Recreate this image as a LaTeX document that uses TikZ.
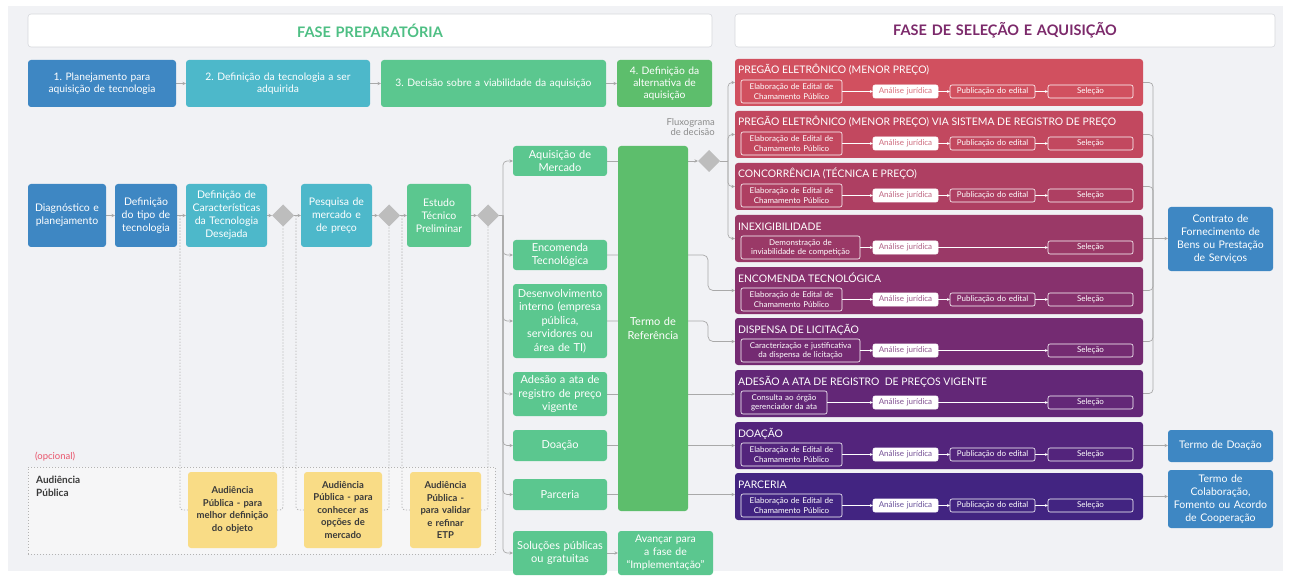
\documentclass[tikz,border=0pt]{standalone}
\usepackage{fontspec}
\setmainfont{Lato}
\usetikzlibrary{arrows.meta,shapes.geometric,calc}
\definecolor{bgc}{HTML}{F1F2F5}
\definecolor{hdrc}{HTML}{D6D8DC}
\definecolor{chg}{HTML}{4EBF84}
\definecolor{chp}{HTML}{7C2A6B}
\definecolor{cblue}{HTML}{3E87C3}
\definecolor{cteal}{HTML}{4DB8CA}
\definecolor{cmint}{HTML}{5BC78F}
\definecolor{cgreen}{HTML}{5DBE6C}
\definecolor{cyel}{HTML}{F9DC86}
\definecolor{ytext}{HTML}{3A3A3A}
\definecolor{lc}{HTML}{A9A9A9}
\definecolor{dc}{HTML}{B3B3B3}
\definecolor{dgray}{HTML}{BDBDBD}
\definecolor{audf}{HTML}{F6F6F7}
\definecolor{cred}{HTML}{E9546B}
\definecolor{cfl}{HTML}{8C8C8C}
\definecolor{pa}{HTML}{D1505F}
\definecolor{pb}{HTML}{C2485F}
\definecolor{pc}{HTML}{AE3F62}
\definecolor{pd}{HTML}{9A3967}
\definecolor{pe}{HTML}{87316D}
\definecolor{pf}{HTML}{742B72}
\definecolor{pg}{HTML}{632777}
\definecolor{ph}{HTML}{53247C}
\definecolor{pi}{HTML}{422481}
\pgfdeclarelayer{back}\pgfdeclarelayer{bg}\pgfsetlayers{back,bg,main}
\newcommand\bx[7]{%
 \pgfmathsetmacro\myW{(#5)-(#3)}%
 \pgfmathsetmacro\myH{(#6)-(#4)}%
 \pgfmathsetmacro\myT{(#5)-(#3)-4}%
 \node[#2,anchor=north west,minimum width=\myW pt,minimum height=\myH pt,text width=\myT pt] (#1) at (#3,#4) {#7};}
\tikzset{
 base/.style={rounded corners=3pt, inner xsep=2pt, inner ysep=1pt, outer sep=0pt, align=center},
 hdr/.style={base, fill=white, draw=hdrc, line width=0.6pt, font=\fontsize{14.5}{17}\selectfont\bfseries},
 bluebox/.style={base, fill=cblue, text=white, font=\fontsize{10.5}{13}\selectfont},
 tealbox/.style={base, fill=cteal, text=white, font=\fontsize{10.5}{13}\selectfont},
 mintbox/.style={base, fill=cmint, text=white, font=\fontsize{10.5}{13}\selectfont},
 grnbox/.style={base, fill=cgreen, text=white, font=\fontsize{10.5}{13}\selectfont},
 phf/.style={font=\fontsize{10.3}{12}\selectfont},
 altbox/.style={mintbox, font=\fontsize{11}{13.5}\selectfont},
 yelbox/.style={base, fill=cyel, text=ytext, font=\fontsize{9.5}{12.5}\selectfont\bfseries},
 dia/.style={diamond, fill=dgray, minimum width=22pt, minimum height=22pt, inner sep=0pt, outer sep=0pt},
 conn/.style={draw=lc, line width=0.7pt, -{Stealth[length=3.5pt,width=3.2pt]}},
 lnk/.style={draw=lc, line width=0.7pt},
 dsh/.style={draw=dc, line width=0.8pt, dash pattern=on 1.3pt off 1.7pt},
 audbox/.style={dsh, fill=audf, inner sep=0pt, outer sep=0pt},
 pblk/.style={rounded corners=3pt, inner sep=0pt, outer sep=0pt},
 ptitle/.style={text=white, font=\fontsize{10.4}{12}\selectfont, inner sep=0pt, outer sep=0pt},
 psub/.style={draw=white, line width=0.6pt, rounded corners=2pt, text=white, font=\fontsize{8}{9.3}\selectfont, inner xsep=2pt, inner ysep=0pt, outer sep=0pt, align=center},
 pana/.style={psub, fill=white},
 wl/.style={draw=white, line width=0.6pt, -{Stealth[length=3pt,width=2.8pt]}},
}
% block: name, top, color, title, first text, first box right x
\newcommand\blk[6]{%
 \bx{#1}{pblk,fill=#3}{735}{#2}{1143}{#2+47}{}
 \node[ptitle,anchor=base west] (#1t) at (738,#2+15) {#4};
 \bx{#1a}{psub}{741}{#2+21}{#6}{#2+44}{#5}
 \bx{#1b}{pana,text=#3!80!white}{873}{#2+26}{938}{#2+39}{Análise jurídica}
 \bx{#1d}{psub}{1048}{#2+26}{1133}{#2+39}{Seleção}
 \draw[wl] (#1a) -- (#1b);}
\newcommand\pub[2]{%
 \bx{#1c}{psub}{950}{#2+26}{1035}{#2+39}{Publicação do edital}
 \draw[wl] (#1b) -- (#1c); \draw[wl] (#1c) -- (#1d);}
\newcommand\nopub[1]{\draw[wl] (#1b) -- (#1d);}
\begin{document}
\frenchspacing
\begin{tikzpicture}[x=1pt,y=-1pt]
\useasboundingbox (0,0) rectangle (1289,577);
\begin{pgfonlayer}{back}
\fill[white] (0,0) rectangle (1289,577);
\fill[bgc] (8,6) rectangle (1283,571);
\end{pgfonlayer}
% headers
\bx{hp}{hdr,text=chg}{28}{14}{712}{47}{FASE PREPARATÓRIA}
\bx{hs}{hdr,text=chp}{735}{14}{1275}{47}{FASE DE SELEÇÃO E AQUISIÇÃO}
% phases
\bx{p1}{bluebox,phf}{28}{60}{176}{107}{1. Planejamento para\\aquisição de tecnologia}
\bx{p2}{tealbox,phf}{186}{60}{370}{107}{2. Definição da tecnologia a ser\\adquirida}
\bx{p3}{mintbox,phf}{381}{60}{606}{107}{3. Decisão sobre a viabilidade da aquisição}
\bx{p4}{grnbox,phf}{617}{60}{712}{107}{4. Definição da\\alternativa de\\aquisição}
% middle row
\bx{m1}{bluebox}{28}{184}{106}{247}{Diagnóstico e\\planejamento}
\bx{m2}{bluebox}{115}{184}{177}{247}{Definição\\do tipo de\\tecnologia}
\bx{m3}{tealbox}{186}{184}{267}{247}{Definição de\\Características\\da Tecnologia\\Desejada}
\node[dia] (d1) at (283,215.5) {};
\bx{m4}{tealbox}{301}{184}{372}{247}{Pesquisa de\\mercado e\\de preço}
\node[dia] (d2) at (389,215.5) {};
\bx{m5}{mintbox}{407}{184}{471}{247}{Estudo\\Técnico\\Preliminar}
\node[dia] (d3) at (488,215.5) {};
% alternatives
\bx{a1}{altbox}{513}{146}{607}{176}{Aquisição de\\Mercado}
\bx{a2}{altbox}{513}{240}{607}{270}{Encomenda\\Tecnológica}
\bx{a3}{altbox}{513}{284}{607}{358}{Desenvolvimento\\interno (empresa\\pública,\\servidores ou\\área de TI)}
\bx{a4}{altbox}{513}{372}{607}{416}{Adesão a ata de\\registro de preço\\vigente}
\bx{a5}{altbox}{513}{430}{607}{461}{Doação}
\bx{a6}{altbox}{513}{479}{607}{510}{Parceria}
\bx{a7}{altbox}{513}{531}{607}{575}{Soluções públicas\\ou gratuitas}
\bx{tr}{grnbox,font=\fontsize{11}{13.5}\selectfont}{618}{146}{688}{511}{Termo de\\Referência}
\bx{av}{mintbox}{618}{531}{713}{575}{Avançar para\\a fase de\\“Implementação”}
\node[dia] (fd) at (709,161) {};
\node[anchor=north east, align=right, text=cfl, font=\fontsize{9.5}{10.5}\selectfont, inner sep=0pt] (fl) at (715,118) {Fluxograma\\de decisão};
% purple blocks
\blk{b1}{59}{pa}{PREGÃO ELETRÔNICO (MENOR PREÇO)}{Elaboração de Edital de\\Chamamento Público}{842}\pub{b1}{59}
\blk{b2}{111}{pb}{PREGÃO ELETRÔNICO (MENOR PREÇO) VIA SISTEMA DE REGISTRO DE PREÇO}{Elaboração de Edital de\\Chamamento Público}{842}\pub{b2}{111}
\blk{b3}{163}{pc}{CONCORRÊNCIA (TÉCNICA E PREÇO)}{Elaboração de Edital de\\Chamamento Público}{842}\pub{b3}{163}
\blk{b4}{215}{pd}{INEXIGIBILIDADE}{Demonstração de\\inviabilidade de competição}{860}\nopub{b4}
\blk{b5}{267}{pe}{ENCOMENDA TECNOLÓGICA}{Elaboração de Edital de\\Chamamento Público}{842}\pub{b5}{267}
\blk{b6}{318}{pf}{DISPENSA DE LICITAÇÃO}{Caracterização e justificativa\\da dispensa de licitação}{860}\nopub{b6}
\blk{b7}{370}{pg}{ADESÃO A ATA DE REGISTRO\ \ DE PREÇOS VIGENTE}{Consulta ao órgão\\gerenciador da ata}{827}\nopub{b7}
\blk{b8}{422}{ph}{DOAÇÃO}{Elaboração de Edital de\\Chamamento Público}{842}\pub{b8}{422}
\blk{b9}{473}{pi}{PARCERIA}{Elaboração de Edital de\\Chamamento Público}{842}\pub{b9}{473}
% outcomes
\bx{ct}{bluebox}{1168}{207}{1273}{271}{Contrato de\\Fornecimento de\\Bens ou Prestação\\de Serviços}
\bx{td}{bluebox}{1168}{430}{1273}{462}{Termo de Doação}
\bx{tc}{bluebox}{1168}{470}{1273}{528}{Termo de\\Colaboração,\\Fomento ou Acordo\\de Cooperação}
% audience
\node[anchor=west, text=cred, font=\fontsize{9.5}{11}\selectfont, inner sep=0pt] (opc) at (35,457) {(opcional)};
\node[anchor=north west, align=left, text=ytext, font=\fontsize{10}{12.5}\selectfont\bfseries, inner sep=0pt] (audl) at (36,476) {Audiência\\Pública};
\bx{y1}{yelbox}{188}{472}{277}{548}{Audiência\\Pública - para\\melhor definição\\do objeto}
\bx{y2}{yelbox}{304}{472}{382}{548}{Audiência\\Pública - para\\conhecer as\\opções de\\mercado}
\bx{y3}{yelbox}{410}{472}{481}{548}{Audiência\\Pública -\\para validar\\e refinar\\ETP}
\coordinate (j1) at (180,215.5);
\coordinate (j2) at (296,215.5);
\coordinate (j3) at (402,215.5);
\coordinate (bj) at (503,215.5);
\coordinate (fj) at (728,161);
\coordinate (rj) at (1153,238.5);
\begin{pgfonlayer}{bg}
\bx{aud}{audbox}{28}{467}{495}{554}{}
\draw[dsh, rounded corners=3pt] (j1) -- ++(0,294.5) -| (d1.south);
\draw[dsh, rounded corners=3pt] (j2) -- ++(0,294.5) -| (d2.south);
\draw[dsh, rounded corners=3pt] (j3) -- ++(0,294.5) -| (d3.south);
% phase arrows
\draw[conn] (p1) -- (p2);
\draw[conn] (p2) -- (p3);
\draw[conn] (p3) -- (p4);
% middle arrows
\draw[conn] (m1) -- (m2);
\draw[conn] (m2) -- (m3);
\draw[conn] (m3) -- (d1);
\draw[conn] (d1) -- (m4);
\draw[conn] (m4) -- (d2);
\draw[conn] (d2) -- (m5);
\draw[conn] (m5) -- (d3);
\draw[lnk] (d3) -- (bj);
\foreach \a in {a1,a2,a3,a4,a5,a6,a7} \draw[conn, rounded corners=4pt] (bj) |- (\a.west);
% to selection
\draw[conn] (a1) -- (fd);
\draw[lnk] (fd) -- (fj);
\foreach \b in {b1,b2,b3,b4} \draw[conn, rounded corners=4pt] (fj) |- (\b.west);
\draw[conn, rounded corners=5pt] (a2.east) -- ++(101,0) |- (b5.west);
\draw[conn, rounded corners=5pt] (a3.east) -- ++(101,0) |- (b6.west);
\draw[conn] (a4.east) -- (a4.east -| b7.west);
\draw[conn] (a5.east) -- (a5.east -| b8.west);
\draw[conn] (a6.east) -- (a6.east -| b9.west);
\draw[conn] (a7) -- (av);
% outcomes
\foreach \b in {b1,b2,b3,b5,b6,b7} \draw[lnk, rounded corners=4pt] (\b.east) -| (rj);
\draw[conn] (b4.east) -- (b4.east -| ct.west);
\draw[conn] (b8.east) -- (b8.east -| td.west);
\draw[conn] (b9.east) -- (b9.east -| tc.west);
\end{pgfonlayer}
\end{tikzpicture}
\end{document}
